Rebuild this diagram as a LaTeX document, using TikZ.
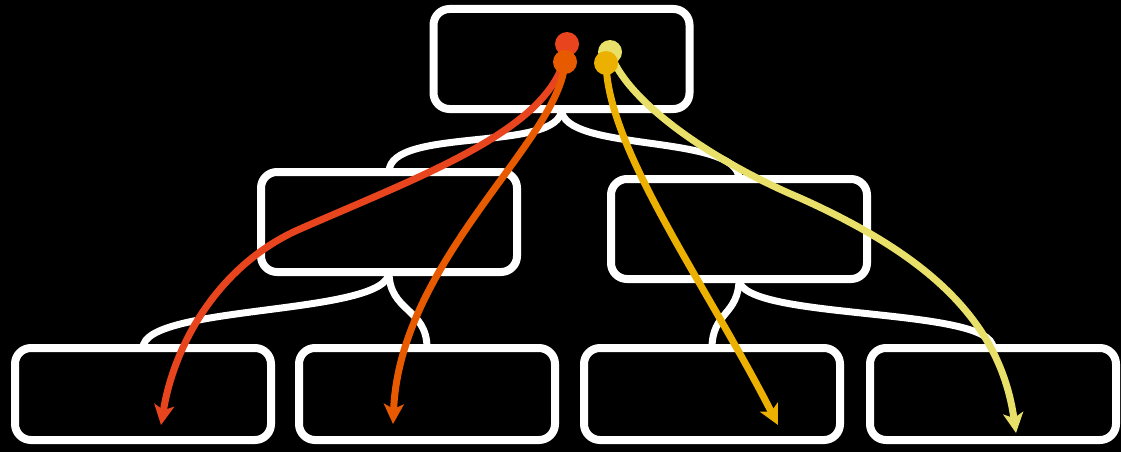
\documentclass[tikz,border=0pt]{standalone}
\usetikzlibrary{arrows.meta}
\definecolor{cRed}{HTML}{E8451E}
\definecolor{cOrange}{HTML}{E85A00}
\definecolor{cGold}{HTML}{EBB000}
\definecolor{cYellow}{HTML}{E8E068}
\pgfdeclarelayer{front}
\pgfsetlayers{main,front}
\begin{document}
\begin{tikzpicture}[x=1pt,y=-1pt,
  box/.style={draw=white,line width=8pt,rounded corners=16pt,minimum width=256pt,
    minimum height=100pt,inner sep=0pt,outer sep=0pt},
  leafbox/.style={box,minimum height=92pt},
  branch/.style={draw=white,line width=7pt},
  dot/.style={circle,fill=#1,minimum size=24pt,inner sep=0pt,outer sep=0pt},
  flow/.style={draw=#1,line width=7pt,-{Stealth[length=20pt,width=20pt,inset=5pt]}}]
% canvas
\fill[black] (0,0) rectangle (1121,452);
\useasboundingbox (0,0) rectangle (1121,452);

% tree boxes
\node[box] (root) at (561.5,59) {};
\node[box] (left) at (389,222) {};
\node[box] (right) at (739,229) {};
\node[leafbox] (ll) at (143,394) {};
\node[leafbox] (lr) at (427,394) {};
\node[leafbox] (rl) at (712,394) {};
\node[leafbox,minimum width=246pt] (rr) at (993,394) {};

% tree edges
\draw[branch] (root.south) .. controls +(0,44) and +(0,-46) .. (left.north);
\draw[branch] (root.south) .. controls +(0,44) and +(0,-46) .. (right.north);
\draw[branch] (left.south) .. controls +(0,44) and +(0,-44) .. (ll.north);
\draw[branch] (left.south) .. controls +(0,40) and +(0,-40) .. (lr.north);
\draw[branch] (right.south) .. controls +(0,36) and +(0,-36) .. (rl.north);
\draw[branch] (right.south) .. controls +(0,42) and +(0,-42) .. (rr.north);

% source dots
\begin{pgfonlayer}{front}
\node[dot=cRed] (rsrc) at (567,44) {};
\node[dot=cYellow] (ysrc) at (610,52) {};
\node[dot=cOrange] (osrc) at (565,62) {};
\node[dot=cGold] (gsrc) at (606,63) {};
\end{pgfonlayer}

% arrow targets
\coordinate (rtip) at (161,425);
\coordinate (otip) at (393,424);
\coordinate (gtip) at (778,425);
\coordinate (ytip) at (1016,433);

% flows
\draw[flow=cRed] (rsrc.center) .. controls (562,125) and (430,172) .. (300,229)
  .. controls (222,263) and (175,340) .. (rtip);
\draw[flow=cYellow] (ysrc.center) .. controls (625,100) and (710,160) .. (800,198)
  .. controls (927,255) and (1000,320) .. (ytip);
\draw[flow=cOrange] (osrc.center) .. controls (560,140) and (400,260) .. (otip);
\draw[flow=cGold] (gsrc.center) .. controls (608,150) and (706,284) .. (gtip);
\end{tikzpicture}
\end{document}
